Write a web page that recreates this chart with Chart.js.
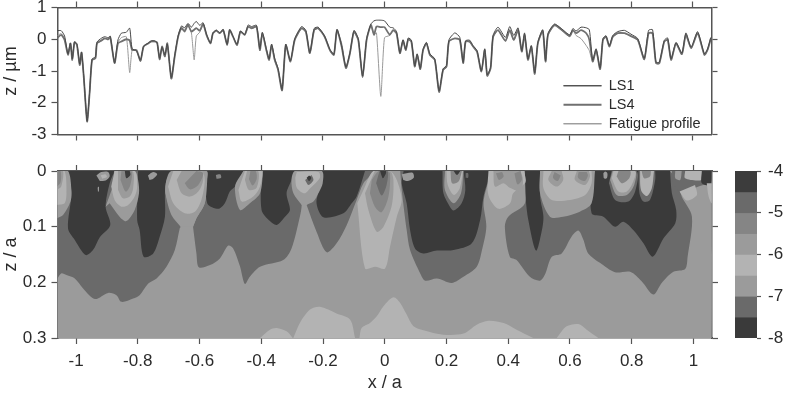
<!DOCTYPE html>
<html>
<head>
<meta charset="utf-8">
<title>Perfil z / a</title>
<script src="https://cdn.jsdelivr.net/npm/chart.js@4"></script>
<style>
    body { margin: 0; background: #fff; width: 787px; height: 394px; overflow: hidden; }
    canvas { position: absolute; }
    #perfil { left: 0; top: 0; }
    #contorno { left: 0; top: 150px; }
    #barra { left: 725px; top: 150px; }
</style>
</head>
<body>
<canvas id="perfil" width="787" height="150"></canvas>
<canvas id="contorno" width="725" height="244"></canvas>
<canvas id="barra" width="62" height="244"></canvas>
<script>
// Ticks
const xTicks = [-1, -0.8, -0.6, -0.4, -0.2, 0, 0.2, 0.4, 0.6, 0.8, 1];
const zProfileTicks = [-3, -2, -1, 0, 1];
const zContourTicks = [0, 0.1, 0.2, 0.3];
const barTicks = [-8, -7, -6, -5, -4];

// Perfiles (x / a, z / um)
const profileX = [
    -1.062,-1.048,-1.037,-1.026,-1.018,-1.012,-1.005,-.997,-.988,-.982,
    -.975,-.964,-.956,-.948,-.937,-.932,-.918,-.907,-.896,-.889,
    -.875,-.864,-.853,-.837,-.826,-.818,-.804,-.791,-.781,-.766,
    -.756,-.745,-.737,-.729,-.721,-.712,-.704,-.691,-.680,-.669,
    -.658,-.648,-.637,-.626,-.617,-.610,-.599,-.588,-.577,-.564,
    -.556,-.545,-.534,-.523,-.510,-.502,-.491,-.478,-.467,-.453,
    -.442,-.431,-.415,-.404,-.396,-.383,-.374,-.366,-.356,-.345,
    -.332,-.320,-.305,-.291,-.269,-.255,-.242,-.228,-.215,-.194,
    -.177,-.164,-.154,-.139,-.125,-.112,-.099,-.085,-.071,-.058,
    -.044,-.034,-.026,-.012,0,.017,.028,.039,.050,.060,
    .069,.077,.087,.098,.106,.116,.125,.136,.147,.163,
    .177,.190,.201,.209,.228,.244,.255,.263,.276,.287,
    .300,.314,.325,.333,.344,.352,.368,.392,.406,.419,
    .433,.445,.454,.465,.476,.487,.497,.513,.522,.530,
    .551,.573,.600,.611,.621,.637,.654,.664,.675,.686,
    .699,.708,.718,.729,.740,.756,.778,.799,.821,.842,
    .856,.869,.880,.891,.907,.918,.929,.945,.964,.977,
    .994,1.015,1.037,1.047,1.058
];
const ls1Z = [
    .27,.27,.10,-.46,-.12,-.62,-.08,-.14,-.78,-.40,
    -1.15,-2.58,-1.68,-.62,-.56,-.09,.03,.08,.05,.10,
    -.74,-.02,.19,.22,.35,-.30,-.36,-.66,-.22,-.12,
    -.05,-.05,-.12,-.60,-.25,-.50,-.15,-1.21,-.50,.10,
    .42,.36,.50,.38,.50,.56,.44,.52,.16,-.12,
    .20,.29,.20,.31,-.16,.30,.09,-.16,.26,.15,
    .45,.40,.44,-.30,.22,-.30,-.62,-.15,-.60,-.92,
    -1.58,-.16,-.68,.01,.40,.28,-.42,.34,.38,.10,
    -.32,-.47,.31,-.20,-.88,-.42,.28,.02,-1.16,.02,
    .48,.58,.60,.60,.58,.38,.36,.24,-.42,-.02,
    -.32,.04,-.03,-.84,-.46,-.92,-.32,-.10,-.46,-.62,
    -1.63,-.93,-.83,-.02,.20,.06,-.73,-.05,-.03,-.20,
    -.36,-1.00,-.30,-1.12,-.88,.12,.38,.06,.40,.12,
    .36,-.36,.20,-.62,-.20,-1.06,-.10,.30,-.68,.18,
    .48,.34,.14,.34,.26,.38,.36,.30,-.66,-.30,
    -.91,.02,.11,-.20,.12,.24,.28,.16,.02,-.60,
    .28,.30,-.72,-.72,-.03,.04,-.62,-.10,-.44,.20,
    -.25,.24,-.46,-.31,.06
];
const ls4Z = [
    .03,.14,-.02,-.49,-.13,-.65,-.10,-.18,-.81,-.42,
    -1.17,-2.59,-1.70,-.65,-.60,-.13,-.04,.03,0,.06,
    -.75,-.13,-.07,0,-.04,-.34,-.34,-.68,-.23,-.13,
    -.07,-.07,-.10,-.63,-.23,-.54,-.13,-1.24,-.54,.08,
    .35,.24,.45,.24,.30,.35,.27,.48,.14,-.13,
    .19,.27,.19,.29,-.18,.29,.08,-.18,.24,.14,
    .40,.35,.40,-.34,.19,-.34,-.65,-.18,-.65,-.96,
    -1.61,-.18,-.70,-.02,.35,.24,-.44,.29,.35,.08,
    -.34,-.49,.29,-.23,-.91,-.44,.24,-.02,-1.19,-.02,
    .45,.14,.40,.38,.38,.14,.29,.19,-.44,-.04,
    -.34,0,-.07,-.86,-.49,-.94,-.34,-.13,-.49,-.65,
    -1.66,-.96,-.86,-.07,.03,-.02,-.75,-.07,-.07,-.23,
    -.39,-1.02,-.34,-1.15,-.91,.08,.29,-.05,.29,-.02,
    .29,-.39,.14,-.65,-.23,-1.09,-.13,.26,-.70,.14,
    .45,.31,.10,.29,.19,.29,.19,-.02,-.70,-.34,
    -.94,-.02,.08,-.23,.08,.19,.19,.10,-.02,-.63,
    .19,.19,-.75,-.75,-.07,-.02,-.65,-.13,-.47,.14,
    -.28,.19,-.49,-.34,.03
];
const fatigueZ = [
    .10,.18,0,-.49,-.12,-.66,-.10,-.18,-.80,-.44,
    -1.17,-2.56,-1.70,-.66,-.60,-.14,-.06,.02,-.02,.05,
    -.76,-.10,.05,.08,-1.05,-.34,-.38,-.70,-.24,-.14,
    -.08,-.08,-.11,-.64,-.22,-.56,-.14,-1.25,-.55,.10,
    .38,.30,.42,.20,-.65,.10,.22,.46,.12,-.15,
    .18,.26,.18,.28,-.19,.28,.07,-.19,.23,.13,
    .38,.33,.38,-.35,.18,-.36,-.66,-.20,-.66,-.97,
    -1.62,-.19,-.72,-.03,.33,.22,-.46,.27,.34,.07,
    -.36,-.50,.27,-.12,-.86,-.46,.22,-.03,-1.20,-.03,
    .43,.15,.20,-1.80,.05,.12,.26,.17,-.46,-.05,
    -.36,-.01,-.08,-.87,-.50,-.95,-.35,-.14,-.50,-.66,
    -1.66,-.98,-.88,-.08,.02,-.04,-.76,-.09,-.09,-.24,
    -.40,-1.03,-.36,-1.16,-.92,.06,.28,-.06,.28,-.03,
    .26,-.40,.12,-.66,-.24,-1.10,-.14,.24,-.72,.12,
    .42,.29,.08,.27,.12,.02,-.20,-.36,-.72,-.36,
    -.95,-.04,.06,-.24,.06,.18,.18,.09,-.04,-.64,
    .18,.17,-.76,-.77,-.08,-.03,-.66,-.14,-.48,.13,
    -.29,.18,-.50,-.35,.02
];

// Barra de color: limites y gris de cada banda, de -4 a -8
const bandEdges = [-4, -4.5, -5, -5.5, -6, -6.5, -7, -7.5, -8];
const bandColors = ['#3c3c3c', '#6a6a6a', '#858585', '#9b9b9b', '#b3b3b3', '#9b9b9b', '#6a6a6a', '#3a3a3a'];

// Contornos, pares [x / a, z / a]
const fondo = [[-1.062,0],[1.059,0],[1.059,.3],[-1.062,.3]];
const lomo1 = [[-.404,.30],[-.372,.285],[-.35,.282],[-.318,.288],[-.298,.30]];
const lomo2 = [[-.296,.30],[-.275,.273],[-.242,.249],[-.21,.244],[-.156,.256],[-.112,.267],[-.096,.30]];
const lomo3 = [[-.082,.30],[-.075,.282],[-.048,.273],[-.026,.261],[-.004,.243],[.028,.227],[.05,.237],[.071,.258],[.093,.279],[.125,.286],[.19,.294],[.255,.292],[.298,.276],[.336,.269],[.385,.273],[.427,.285],[.481,.30]];
const lomo4 = [[.557,.30],[.589,.279],[.627,.275],[.654,.285],[.692,.30]];

const banda1 = [[-1.062,.195],[-1.048,.184],[-1.031,.187],[-1.004,.193],[-.977,.211],[-.939,.23],[-.896,.219],[-.869,.223],[-.853,.235],[-.815,.229],[-.794,.223],[-.766,.202],[-.739,.193],[-.707,.172],[-.68,.142],[-.664,.103],[-.661,.10],[-.691,.07],[-.71,.04],[-.707,.016],[-.691,0],[-1.062,0]];
const banda2 = [[-.621,.10],[-.61,.148],[-.602,.173],[-.566,.169],[-.534,.157],[-.507,.134],[-.491,.139],[-.469,.171],[-.453,.203],[-.437,.19],[-.404,.172],[-.329,.16],[-.302,.139],[-.275,.082],[-.269,.061],[-.269,0],[-.577,0],[-.575,.016],[-.583,.058],[-.61,.085]];
const banda3 = [[-.253,.061],[-.221,.109],[-.188,.146],[-.156,.13],[-.123,.097],[-.091,.052],[-.069,.022],[-.037,0],[-.204,0]];
const banda4 = [[.05,0],[.055,.034],[.071,.106],[.082,.142],[.115,.184],[.131,.197],[.169,.193],[.217,.201],[.255,.19],[.298,.172],[.315,.142],[.329,.10],[.32,.058],[.331,.028],[.352,0]];
const banda5 = [[.454,0],[.454,.058],[.4,.082],[.389,.10],[.405,.154],[.427,.16],[.47,.19],[.503,.197],[.519,.186],[.541,.154],[.573,.148],[.605,.118],[.627,.107],[.643,.123],[.659,.148],[.697,.165],[.746,.182],[.795,.181],[.832,.198],[.87,.222],[.897,.201],[.935,.181],[.973,.176],[.981,.154],[.995,.082],[.962,.046],[.946,.016],[.924,0]];

const oscuro1 = [[-1.026,0],[-1.015,.04],[-1.026,.103],[-1.004,.124],[-.969,.151],[-.945,.142],[-.923,.119],[-.889,.097],[-.904,.064],[-.891,.022],[-.875,0]];
const oscuro2 = [[-.799,0],[-.802,.088],[-.794,.106],[-.781,.154],[-.75,.148],[-.729,.118],[-.712,.082],[-.712,.04],[-.707,.016],[-.685,0]];
const oscuro3 = [[-.577,0],[-.575,.058],[-.539,.068],[-.518,.058],[-.502,.037],[-.485,.028],[-.458,0]];
const oscuro4 = [[-.399,0],[-.399,.07],[-.372,.09],[-.35,.097],[-.323,.082],[-.307,.07],[-.318,.04],[-.302,.016],[-.291,0]];
const oscuro5 = [[-.204,0],[-.21,.028],[-.221,.058],[-.199,.083],[-.134,.076],[-.107,.058],[-.091,.046],[-.064,0]];
const oscuro6 = [[.061,0],[.055,.022],[.071,.058],[.082,.106],[.098,.139],[.125,.148],[.169,.143],[.223,.142],[.282,.13],[.309,.088],[.32,.046],[.336,.016],[.352,0]];
const oscuro7 = [[.454,0],[.457,.052],[.465,.088],[.49,.143],[.508,.109],[.514,.082],[.503,.04],[.524,0]];
const oscuro8 = [[.67,0],[.67,.076],[.708,.082],[.746,.1],[.773,.091],[.805,.106],[.838,.13],[.868,.154],[.903,.121],[.941,.094],[.944,.07],[.93,.04],[.924,0]];

// Lista de pintado: [poligono, indice en bandColors], de abajo hacia arriba
const capas = [
    [fondo, 5], [lomo1, 4], [lomo2, 4], [lomo3, 4], [lomo4, 4],
    [banda1, 6], [banda2, 6], [banda3, 6], [banda4, 6], [banda5, 6],
    [oscuro1, 7], [oscuro2, 7], [oscuro3, 7], [oscuro4, 7], [oscuro5, 7], [oscuro6, 7], [oscuro7, 7], [oscuro8, 7],
    // borde izquierdo
    [[[-1.062,.085],[-1.042,.079],[-1.018,.055],[-1.015,.034],[-1.026,0],[-1.062,0]], 5],
    [[[-1.062,.061],[-1.037,.058],[-1.031,.04],[-1.037,0],[-1.062,0]], 4],
    [[[-1.062,.034],[-1.048,.028],[-1.042,0],[-1.062,0]], 3],
    [[[-1.062,.028],[-1.05,.02],[-1.05,0],[-1.062,0]], 2],
    // x = -0.85
    [[[-.904,.064],[-.875,.016],[-.875,0],[-.81,0],[-.799,.016],[-.796,.04],[-.81,.07],[-.837,.09],[-.859,.082],[-.891,.058]], 5],
    [[[-.886,.028],[-.875,.052],[-.853,.064],[-.831,.061],[-.81,.046],[-.802,.028],[-.81,0],[-.875,0]], 4],
    [[[-.864,.034],[-.848,.049],[-.826,.046],[-.815,.031],[-.817,0],[-.864,0]], 3],
    [[[-.856,.016],[-.839,.037],[-.824,.025],[-.821,0],[-.853,0]], 2],
    [[[-.842,0],[-.837,.013],[-.824,.007],[-.826,0]], 7],
    [[[-.934,.008],[-.918,.002],[-.896,.002],[-.891,.01],[-.904,.017],[-.923,.018]], 5],
    [[[-.92,.008],[-.905,.006],[-.9,.011],[-.915,.014]], 4],
    [[[-.93,.03],[-.926,.028],[-.926,.037],[-.929,.037]], 5],
    [[[-.767,.008],[-.75,.002],[-.737,.006],[-.75,.014],[-.762,.016]], 5],
    // x = -0.63
    [[[-.661,.10],[-.691,.079],[-.71,.04],[-.707,.016],[-.691,0],[-.577,0],[-.575,.016],[-.583,.058],[-.61,.085],[-.621,.10]], 5],
    [[[-.702,.028],[-.685,.058],[-.648,.076],[-.615,.073],[-.594,.052],[-.583,.016],[-.594,0],[-.685,0]], 4],
    [[[-.674,.016],[-.658,.04],[-.631,.046],[-.604,.037],[-.588,.016],[-.594,0],[-.658,0]], 3],
    [[[-.648,.022],[-.631,.033],[-.604,.025],[-.588,.004],[-.61,0]], 2],
    [[[-.547,.007],[-.533,.006],[-.53,.012],[-.545,.014]], 2],
    // x = -0.47
    [[[-.458,0],[-.485,.028],[-.469,.07],[-.437,.058],[-.404,.04],[-.394,0]], 5],
    [[[-.474,.034],[-.463,.055],[-.426,.046],[-.404,.028],[-.399,0],[-.453,0]], 4],
    [[[-.453,.016],[-.44,.034],[-.415,.03],[-.41,0],[-.446,0]], 3],
    [[[-.44,.015],[-.428,.026],[-.415,.015],[-.418,0],[-.435,0]], 2],
    // x = -0.26
    [[[-.269,.061],[-.296,.04],[-.302,.016],[-.291,0],[-.204,0],[-.201,.022],[-.215,.04],[-.231,.055],[-.253,.061]], 5],
    [[[-.29,.012],[-.285,.03],[-.26,.04],[-.24,.03],[-.21,.012],[-.215,.002],[-.285,.002]], 4],
    [[[-.258,.016],[-.247,.025],[-.231,.016],[-.237,.007]], 6],
    [[[-.253,.012],[-.245,.018],[-.238,.012],[-.245,.008]], 7],
    // x = 0
    [[[-.089,.058],[-.064,.175],[-.032,.172],[.001,.175],[.017,.136],[.039,.082],[.055,.052],[.039,.016],[.017,0],[-.037,0],[-.069,.034]], 4],
    [[[-.064,.04],[-.053,.07],[-.026,.109],[-.004,.10],[.023,.061],[.028,.016],[.017,0],[-.032,0]], 3],
    [[[-.048,.04],[-.032,.064],[-.01,.074],[.012,.046],[.017,.004],[.006,0],[-.02,0],[-.042,.016]], 2],
    [[[-.028,.022],[-.01,.044],[.006,.025],[.009,0],[-.017,0]], 6],
    [[[-.015,0],[-.006,.013],[.004,.004],[.004,0]], 7],
    [[[.055,.006],[.09,.003],[.094,.012],[.075,.018],[.06,.016]], 5],
    // x = 0.22
    [[[.187,0],[.19,.04],[.211,.064],[.224,.071],[.249,.058],[.261,.034],[.255,0]], 6],
    [[[.195,0],[.195,.034],[.223,.058],[.247,.04],[.255,0]], 5],
    [[[.2,0],[.204,.025],[.224,.043],[.243,.031],[.253,0]], 4],
    [[[.213,0],[.218,.022],[.239,.019],[.25,0]], 2],
    [[[.223,0],[.234,.007],[.245,0]], 7],
    [[[.262,.004],[.27,.004],[.27,.012],[.262,.012]], 6],
    // x = 0.38
    [[[.336,0],[.333,.034],[.342,.052],[.369,.068],[.406,.058],[.416,.04],[.454,.022],[.457,.016],[.451,0]], 4],
    [[[.352,0],[.357,.028],[.385,.022],[.405,.03],[.44,.036],[.448,.016],[.44,0]], 3],
    [[[.36,.004],[.37,.016],[.385,.01],[.38,.002]], 2],
    [[[.42,.004],[.43,.024],[.444,.016],[.44,0]], 2],
    // x = 0.6
    [[[.503,0],[.503,.04],[.535,.082],[.578,.082],[.632,.073],[.67,.058],[.681,0]], 5],
    [[[.514,0],[.514,.031],[.541,.052],[.6,.052],[.649,.043],[.67,.022],[.67,0]], 4],
    [[[.541,0],[.53,.016],[.557,.028],[.578,.016],[.573,0]], 3],
    [[[.622,0],[.616,.016],[.649,.025],[.665,.01],[.661,0]], 3],
    [[[.55,.002],[.545,.012],[.56,.018],[.57,.008]], 2],
    [[[.628,.002],[.626,.012],[.648,.018],[.658,.008],[.654,.002]], 2],
    // x = 0.78 y 0.86
    [[[.726,.022],[.746,.052],[.789,.055],[.811,.037],[.816,0],[.735,0]], 6],
    [[[.73,.016],[.751,.043],[.784,.043],[.808,.025],[.811,0],[.738,0]], 5],
    [[[.735,.013],[.757,.037],[.784,.037],[.805,.019],[.811,0],[.741,0]], 4],
    [[[.751,.01],[.768,.022],[.792,.013],[.795,0],[.757,0]], 2],
    [[[.822,0],[.825,.04],[.838,.055],[.859,.052],[.876,.016],[.876,0]], 6],
    [[[.827,0],[.83,.034],[.849,.045],[.865,.031],[.872,0]], 4],
    [[[.832,0],[.84,.013],[.859,.01],[.862,0]], 2],
    [[[.708,.004],[.714,.001],[.721,.004],[.72,.012],[.714,.014],[.709,.012]], 5],
    // borde derecho
    [[[.93,0],[.935,.022],[.957,.037],[1.032,.025],[1.059,.022],[1.059,0]], 6],
    [[[.955,.037],[.978,.053],[1.011,.043],[1.005,.025]], 4],
    [[[.941,0],[.941,.013],[.957,.016],[.962,0]], 5],
    [[[.973,0],[.973,.013],[1.027,.016],[1.03,0]], 4],
    [[[1.027,0],[1.027,.022],[1.054,.025],[1.059,0]], 7],
    [[[1.043,.022],[1.049,.046],[1.059,.058],[1.059,.022]], 4]
];

const colorEje = '#555';
const colorTexto = '#2b2b2b';
const fuente = { family: '"Liberation Sans", Arial, sans-serif', size: 17 };

// Eje con marcas hacia afuera, sin rejilla, y tamano fijo en pixeles
function crearEje(posicion, min, max, ticks, tamano, extra = {}) {
    const horizontal = posicion === 'top' || posicion === 'bottom';
    return {
        type: 'linear',
        position: posicion,
        min,
        max,
        afterBuildTicks: eje => { eje.ticks = ticks.map(value => ({ value })); },
        afterFit: eje => {
            if (horizontal) eje.height = tamano;
            else eje.width = tamano;
            // sin margen extra por media etiqueta, si no el area se encoge
            eje.paddingTop = eje.paddingBottom = eje.paddingLeft = eje.paddingRight = 0;
        },
        border: { display: true, color: colorEje, width: 1.5 },
        grid: { drawOnChartArea: false, drawTicks: true, tickLength: 6, tickColor: colorEje, tickWidth: 1.2 },
        ticks: {
            display: false,
            color: colorTexto,
            font: fuente,
            padding: 7,
            maxRotation: 0,
            autoSkip: false,
            callback: valor => String(valor)
        },
        ...extra
    };
}

function etiquetas(eje) {
    eje.ticks.display = true;
    return eje;
}

function tituloEje(texto) {
    return { display: true, text: texto, color: colorTexto, font: { ...fuente, size: 18 }, padding: 0 };
}

// Grafico de perfiles
function crearGraficoPerfil() {
    const puntos = serie => profileX.map((x, i) => ({ x, y: serie[i] }));
    const ejeZ = etiquetas(crearEje('left', -3, 1, zProfileTicks, 57.5));
    ejeZ.title = tituloEje('z / µm');
    ejeZ.ticks.padding = 5;
    return new Chart(document.getElementById('perfil'), {
        type: 'line',
        data: {
            datasets: [
                { label: 'LS1', data: puntos(ls1Z), borderColor: '#484848', backgroundColor: '#484848', borderWidth: 1, pointRadius: 0, tension: 0.2 },
                { label: 'LS4', data: puntos(ls4Z), borderColor: '#707070', backgroundColor: '#707070', borderWidth: 1.8, pointRadius: 0, tension: 0.2 },
                { label: 'Fatigue profile', data: puntos(fatigueZ), borderColor: '#999', backgroundColor: '#999', borderWidth: 1, pointRadius: 0, tension: 0.2 }
            ]
        },
        options: {
            responsive: false,
            animation: false,
            layout: { padding: 0 },
            scales: {
                x: crearEje('bottom', -1.06, 1.06, xTicks, 15.5),
                x2: crearEje('top', -1.06, 1.06, xTicks, 7.5),
                y: ejeZ,
                y2: crearEje('right', -3, 1, zProfileTicks, 75.5)
            },
            plugins: {
                tooltip: { enabled: false },
                legend: {
                    position: 'chartArea',
                    align: 'end',
                    labels: {
                        color: colorTexto,
                        font: { ...fuente, size: 14.5 },
                        boxWidth: 38,
                        boxHeight: 0,
                        padding: 4.5
                    }
                }
            }
        },
        plugins: [{
            id: 'moverLeyenda',
            afterLayout(chart) {
                chart.legend.left = 559;
                chart.legend.bottom += 8.5;
            }
        }]
    });
}

// Grafico de contornos, cada capa es un poligono relleno
function crearGraficoContorno() {
    const ejeX = etiquetas(crearEje('bottom', -1.06, 1.06, xTicks, 56));
    ejeX.title = tituloEje('x / a');
    const ejeZ = etiquetas(crearEje('left', 0, 0.3, zContourTicks, 57.5, { reverse: true }));
    ejeZ.title = tituloEje('z / a');
    ejeZ.ticks.padding = 5;
    return new Chart(document.getElementById('contorno'), {
        type: 'scatter',
        data: {
            datasets: capas.map(([poligono, banda], i) => ({
                data: poligono.map(([x, y]) => ({ x, y })),
                showLine: true,
                fill: 'shape',
                backgroundColor: bandColors[banda],
                borderWidth: 0,
                pointRadius: 0,
                tension: 0.3,
                order: capas.length - i
            }))
        },
        options: {
            responsive: false,
            animation: false,
            layout: { padding: 0 },
            scales: {
                x: ejeX,
                x2: crearEje('top', -1.06, 1.06, xTicks, 21),
                y: ejeZ,
                y2: crearEje('right', 0, 0.3, zContourTicks, 13, { reverse: true })
            },
            plugins: { legend: { display: false }, tooltip: { enabled: false } }
        }
    });
}

// Barra de color, una barra flotante por banda
function crearBarraColor() {
    const ejeBarra = etiquetas(crearEje('right', -8, -4, barTicks, 30));
    ejeBarra.border = { display: false };
    ejeBarra.grid.tickLength = 4;
    ejeBarra.ticks.padding = 7;
    return new Chart(document.getElementById('barra'), {
        type: 'bar',
        data: {
            labels: [''],
            datasets: bandColors.map((color, i) => ({
                data: [[bandEdges[i + 1], bandEdges[i]]],
                backgroundColor: color,
                borderWidth: 0,
                barPercentage: 1,
                categoryPercentage: 1,
                grouped: false
            }))
        },
        options: {
            responsive: false,
            animation: false,
            layout: { padding: { left: 10, top: 21, bottom: 56 } },
            scales: {
                x: { display: false },
                y: ejeBarra
            },
            plugins: { legend: { display: false }, tooltip: { enabled: false } }
        }
    });
}

crearGraficoPerfil();
crearGraficoContorno();
crearBarraColor();
</script>
</body>
</html>
